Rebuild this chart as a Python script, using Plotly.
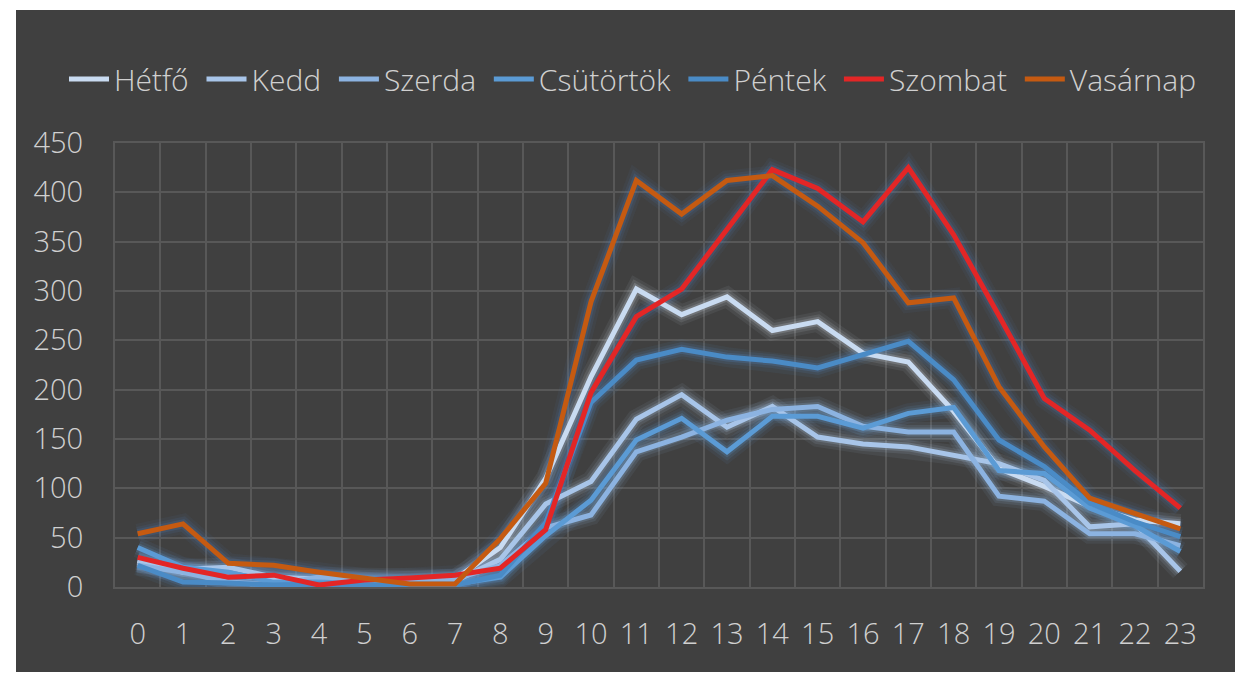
import plotly.graph_objects as go

hours = [str(h) for h in range(24)]
series_names = ["Hétfő", "Kedd", "Szerda", "Csütörtök", "Péntek", "Szombat", "Vasárnap"]

hetfo = [27, 15, 12, 8, 5, 5, 6, 8, 40, 110, 213, 302, 276, 294, 260, 269, 237, 228, 178, 120, 102, 82, 68, 64]
kedd = [25, 18, 20, 10, 8, 6, 5, 6, 28, 84, 107, 170, 195, 162, 183, 152, 145, 142, 134, 125, 108, 61, 64, 16]
szerda = [22, 15, 5, 2, 10, 8, 6, 8, 22, 60, 73, 137, 152, 169, 180, 183, 163, 157, 157, 92, 87, 54, 54, 42]
csutortok = [40, 20, 15, 5, 5, 3, 3, 3, 10, 52, 88, 149, 171, 137, 173, 173, 161, 176, 182, 118, 115, 80, 62, 36]
pentek = [22, 5, 4, 2, 3, 2, 1, 2, 12, 65, 187, 230, 241, 233, 229, 222, 236, 249, 210, 149, 122, 85, 66, 51]
szombat = [30, 19, 10, 12, 2, 7, 9, 12, 19, 58, 197, 274, 302, 363, 423, 404, 370, 425, 357, 275, 191, 159, 118, 80]
vasarnap = [54, 64, 24, 22, 15, 9, 3, 3, 49, 105, 289, 412, 378, 412, 417, 386, 349, 288, 293, 203, 142, 90, 74, 59]

values = [hetfo, kedd, szerda, csutortok, pentek, szombat, vasarnap]
colors = ["#c9dbf1", "#a8c5e9", "#8cb3e1", "#5b9bd5", "#4a8bc6", "#e32626", "#c55a11"]
glow = ["rgba(215,225,240,{a})", "rgba(185,208,236,{a})", "rgba(155,192,235,{a})",
        "rgba(100,160,220,{a})", "rgba(90,150,215,{a})", "rgba(80,130,190,{a})", "rgba(80,130,190,{a})"]

FONT = "Open Sans, Noto Sans, Liberation Sans, sans-serif"
TXT = "#d0d0d0"
GRID = "#585858"

fig = go.Figure()

# glow underlays
for vals, g in zip(values, glow):
    for w, a in [(20, 0.07), (14, 0.11), (9, 0.18)]:
        fig.add_trace(go.Scatter(x=hours, y=vals, mode="lines", showlegend=False, hoverinfo="skip",
                                 line=dict(color=g.format(a=a), width=w, shape="linear")))

for name, vals, c in zip(series_names, values, colors):
    fig.add_trace(go.Scatter(x=hours, y=vals, mode="lines", name=name + "\u00a0",
                             line=dict(color=c, width=5)))

W, H = 1235, 673
L, R, T, B = 115, 32, 143, 86
pw, ph = W - L - R, H - T - B

def px2x(px):
    return (px - L) / pw

def py2y(py):
    return (H - B - py) / ph

fig.update_layout(
    width=W, height=H,
    margin=dict(l=L, r=R, t=T, b=B, pad=0),
    paper_bgcolor="#404040",
    plot_bgcolor="#404040",
    font=dict(family=FONT, size=29, color=TXT, weight=300),
    showlegend=True,
    legend=dict(orientation="h", x=px2x(64), xanchor="left", y=py2y(79), yanchor="middle",
                font=dict(family=FONT, size=30, color=TXT, weight=300),
                bgcolor="rgba(0,0,0,0)", itemwidth=40, tracegroupgap=0),
    xaxis=dict(type="category", tickson="boundaries", showgrid=True, gridcolor=GRID, gridwidth=2,
               showline=True, mirror=True, linecolor=GRID, linewidth=2, ticks="",
               ticklabelstandoff=20, tickfont=dict(family=FONT, size=29, color=TXT, weight=300),
               range=[-0.5, 23.5], zeroline=False, fixedrange=True),
    yaxis=dict(range=[0, 450], dtick=50, tick0=0, showgrid=True, gridcolor=GRID, gridwidth=2,
               zeroline=True, zerolinecolor=GRID, zerolinewidth=2,
               showline=True, mirror=True, linecolor=GRID, linewidth=2, ticks="",
               ticklabelstandoff=24, tickfont=dict(family=FONT, size=29, color=TXT, weight=300),
               fixedrange=True),
    shapes=[
        dict(type="rect", xref="paper", yref="paper", x0=px2x(0), x1=px2x(16), y0=py2y(700), y1=py2y(0),
             fillcolor="white", line=dict(width=0), layer="below"),
        dict(type="rect", xref="paper", yref="paper", x0=px2x(0), x1=px2x(1250), y0=py2y(10), y1=py2y(0),
             fillcolor="white", line=dict(width=0), layer="below"),
        dict(type="rect", xref="paper", yref="paper", x0=px2x(0), x1=px2x(1250), y0=py2y(680), y1=py2y(672),
             fillcolor="white", line=dict(width=0), layer="below"),
    ],
)

fig.write_html("out.html", config={"displayModeBar": False},
               post_script="document.body.style.margin='0';document.body.style.overflow='hidden';")
